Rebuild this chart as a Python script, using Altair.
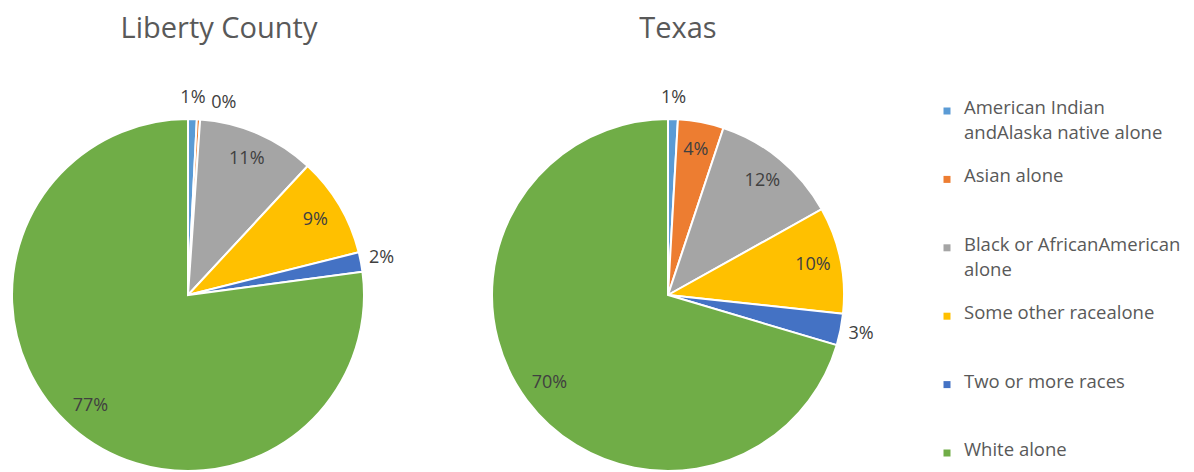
import altair as alt
import pandas as pd

FONT = "Open Sans"

categories = [
    "American Indian andAlaska native alone",
    "Asian alone",
    "Black or AfricanAmerican alone",
    "Some other racealone",
    "Two or more races",
    "White alone",
]
legend_labels = [
    "American Indian\nandAlaska native alone",
    "Asian alone",
    "Black or AfricanAmerican\nalone",
    "Some other racealone",
    "Two or more races",
    "White alone",
]
colors = ["#5B9BD5", "#ED7D31", "#A5A5A5", "#FFC000", "#4472C4", "#70AD47"]

liberty_values = [0.8, 0.3, 10.8, 9.2, 1.8, 77.1]
texas_values = [0.9, 4.2, 11.8, 9.8, 2.9, 70.4]

color_scale = alt.Scale(domain=categories, range=colors)


def pie(values, title, title_dx):
    df = pd.DataFrame({"category": categories, "value": values, "idx": list(range(len(categories)))})
    base = alt.Chart(df).transform_calculate(
        inner="datum.value >= 3.5 ? format(datum.value / 100, '.0%') : ''",
        outer="datum.value < 3.5 && datum.value >= 0.5 ? format(datum.value / 100, '.0%') : ''",
        tiny="datum.value < 0.5 ? format(datum.value / 100, '.0%') : ''",
    ).encode(
        theta=alt.Theta("value:Q", stack=True),
        order=alt.Order("idx:Q"),
    )
    arcs = base.mark_arc(outerRadius=176, stroke="white", strokeWidth=2).encode(
        color=alt.Color("category:N", scale=color_scale, legend=None)
    )
    txt_style = dict(font=FONT, fontSize=18, color="#404040")
    inner = base.mark_text(radius=148, **txt_style).encode(text="inner:N")
    outer = base.mark_text(radius=197, **txt_style).encode(text="outer:N")
    tiny = base.mark_text(radius=197, dx=24, dy=5, **txt_style).encode(text="tiny:N")
    return alt.layer(arcs, inner, outer, tiny).properties(
        width=354,
        height=354,
        title=alt.TitleParams(
            title, font=FONT, fontSize=29, fontWeight="normal", color="#595959",
            anchor="middle", dx=title_dx, offset=45,
        ),
    )


p1 = pie(liberty_values, "Liberty County", 31)
p2 = pie(texas_values, "Texas", 10)

leg_df = pd.DataFrame({"category": categories, "label": legend_labels})
leg_base = alt.Chart(leg_df).encode(
    y=alt.Y("category:N", sort=categories, axis=None,
            scale=alt.Scale(range=[-7, 335], padding=0)),
)
swatches = leg_base.mark_square(size=49, opacity=1).encode(
    x=alt.value(4),
    color=alt.Color("category:N", scale=color_scale, legend=None),
)
labels = leg_base.mark_text(
    align="left", baseline="top", dy=-12, lineBreak="\n",
    font=FONT, fontSize=18.5, color="#595959", lineHeight=25,
).encode(x=alt.value(21), text="label:N")
legend = alt.layer(swatches, labels).properties(width=230, height=354)

chart = alt.hconcat(
    alt.hconcat(p1, p2, spacing=82),
    legend,
    spacing=57,
).properties(padding={"left": 0, "top": 7, "right": 0, "bottom": 0}).configure_view(stroke=None)

chart.save("out.html", embed_options={"renderer": "svg", "actions": False})
